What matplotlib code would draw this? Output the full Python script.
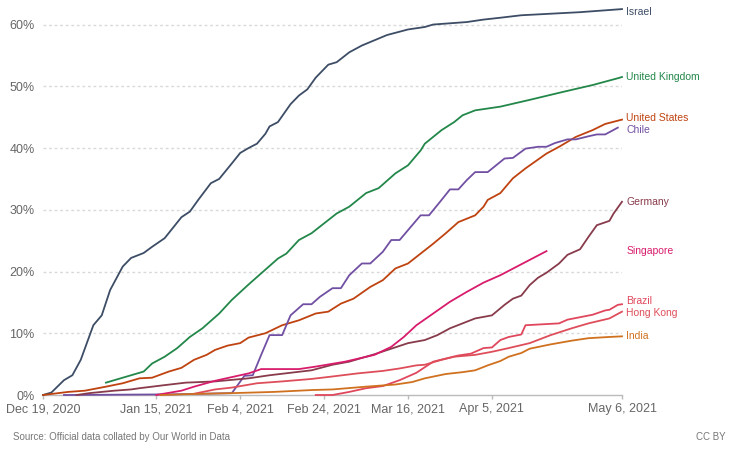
import matplotlib
matplotlib.use('Agg')
import matplotlib.pyplot as plt
import pandas as pd

# share of people with at least one vaccine dose, % (day = days after start)
start = pd.Timestamp('2020-12-19')
end = pd.Timestamp('2021-05-06')

israel_days = [0, 2, 5, 7, 9, 12, 14, 16, 19, 21, 24, 26, 29, 33, 35, 37, 40, 42, 45, 47, 49, 51, 53, 54,
               56, 59, 61, 63, 65, 68, 70, 73, 76, 82, 87, 91, 93, 101, 105, 109, 114, 128, 138]
israel_vals = [0, 0.4, 2.4, 3.2, 5.7, 11.3, 12.9, 17.0, 20.8, 22.2, 23.0, 24.0, 25.4, 28.8, 29.7, 31.6,
               34.3, 35.0, 37.5, 39.2, 40.0, 40.7, 42.3, 43.5, 44.2, 47.1, 48.5, 49.5, 51.4, 53.5, 53.9,
               55.5, 56.6, 58.3, 59.2, 59.6, 60.0, 60.4, 60.8, 61.1, 61.5, 62.0, 62.5]

uk_days = [15, 20, 24, 26, 29, 32, 35, 38, 42, 45, 49, 52, 56, 58, 61, 64, 67, 70, 73, 75, 77, 80, 84,
           87, 90, 91, 95, 98, 100, 103, 106, 109, 116, 124, 131, 137, 138]
uk_vals = [2.0, 3.0, 3.8, 5.1, 6.2, 7.6, 9.4, 10.8, 13.2, 15.4, 17.9, 19.7, 22.1, 22.9, 25.1, 26.2,
           27.8, 29.4, 30.5, 31.6, 32.7, 33.5, 35.9, 37.2, 39.6, 40.7, 42.9, 44.2, 45.3, 46.1, 46.4,
           46.7, 47.8, 49.1, 50.2, 51.3, 51.5]

us_days = [0, 6, 10, 15, 19, 23, 26, 30, 33, 36, 39, 41, 44, 47, 49, 53, 57, 61, 65, 68, 71, 74, 78,
           81, 84, 87, 90, 93, 96, 99, 103, 105, 106, 109, 112, 115, 120, 123, 127, 131, 134, 138]
us_vals = [0, 0.5, 0.7, 1.35, 1.9, 2.7, 2.8, 3.8, 4.4, 5.7, 6.5, 7.3, 8.0, 8.4, 9.3, 10.0, 11.3, 12.1,
           13.2, 13.5, 14.8, 15.6, 17.5, 18.6, 20.5, 21.3, 22.9, 24.5, 26.2, 28.0, 29.1, 30.5, 31.6,
           32.7, 35.1, 36.7, 39.1, 40.2, 41.8, 42.9, 43.9, 44.6]

chile_days = [5, 30, 45, 48, 50, 52, 54, 57, 59, 62, 64, 66, 69, 71, 73, 76, 78, 81, 83, 85, 88, 90,
              92, 95, 97, 99, 101, 103, 106, 110, 112, 115, 118, 120, 122, 125, 127, 130, 132, 134, 137]
chile_vals = [0, 0.1, 0.3, 3.1, 3.2, 6.5, 9.7, 9.7, 12.9, 14.7, 14.7, 15.9, 17.3, 17.3, 19.4, 21.3,
              21.3, 23.2, 25.1, 25.1, 27.5, 29.1, 29.1, 31.6, 33.3, 33.3, 34.8, 36.1, 36.1, 38.3, 38.4,
              39.9, 40.2, 40.2, 40.8, 41.4, 41.4, 41.9, 42.2, 42.2, 43.3]

germany_days = [8, 11, 17, 21, 23, 29, 34, 41, 49, 54, 59, 64, 69, 73, 79, 83, 87, 91, 94, 97, 100,
                103, 107, 110, 112, 114, 116, 118, 120, 123, 125, 128, 130, 132, 135, 136, 138]
germany_vals = [0, 0.3, 0.7, 0.9, 1.1, 1.6, 2.0, 2.2, 2.7, 3.2, 3.6, 4.0, 4.9, 5.4, 6.6, 7.5, 8.4,
                8.9, 9.7, 10.8, 11.6, 12.4, 12.9, 14.6, 15.6, 16.1, 17.8, 19.0, 19.8, 21.3, 22.7,
                23.6, 25.6, 27.5, 28.2, 29.4, 31.3]

singapore_days = [27, 33, 36, 41, 45, 49, 52, 61, 65, 72, 79, 83, 86, 89, 93, 97, 101, 105, 109, 120]
singapore_vals = [0, 0.7, 1.35, 2.3, 2.9, 3.5, 4.2, 4.2, 4.6, 5.4, 6.5, 7.8, 9.4, 11.3, 13.2, 15.1,
                  16.7, 18.2, 19.4, 23.3]

brazil_days = [65, 69, 73, 77, 81, 85, 89, 93, 96, 99, 102, 105, 107, 109, 111, 114, 115, 123, 125,
               128, 131, 134, 135, 137, 138]
brazil_vals = [0, 0, 0.5, 1.1, 1.45, 2.4, 3.6, 5.4, 5.9, 6.4, 6.7, 7.6, 7.7, 8.9, 9.4, 9.8, 11.3,
               11.6, 12.2, 12.6, 13.0, 13.7, 13.8, 14.6, 14.7]

hongkong_days = [36, 41, 45, 51, 57, 64, 69, 75, 81, 85, 89, 91, 95, 98, 103, 107, 111, 116, 121,
                 126, 130, 135, 138]
hongkong_vals = [0.2, 0.9, 1.2, 1.9, 2.2, 2.6, 3.0, 3.5, 3.9, 4.3, 4.8, 4.9, 5.7, 6.2, 6.5, 7.0, 7.6,
                 8.4, 9.7, 10.8, 11.6, 12.4, 13.5]

india_days = [28, 35, 45, 55, 64, 69, 77, 84, 88, 91, 96, 100, 103, 106, 109, 111, 114, 116, 121,
              126, 130, 135, 138]
india_vals = [0, 0.15, 0.3, 0.5, 0.8, 0.9, 1.35, 1.7, 2.1, 2.7, 3.4, 3.7, 4.0, 4.8, 5.5, 6.2, 6.8,
              7.5, 8.2, 8.8, 9.2, 9.4, 9.5]

tick_dates = ['2020-12-19', '2021-01-15', '2021-02-04', '2021-02-24', '2021-03-16', '2021-04-05',
              '2021-05-06']
y_ticks = [0, 10, 20, 30, 40, 50, 60]

series = [
    ('Israel', israel_days, israel_vals, '#3d4d66', -3),
    ('United Kingdom', uk_days, uk_vals, '#23874a', 0),
    ('United States', us_days, us_vals, '#bf4310', 2),
    ('Chile', chile_days, chile_vals, '#7150a3', -2),
    ('Germany', germany_days, germany_vals, '#883b4b', 0),
    ('Singapore', singapore_days, singapore_vals, '#d81c6c', 0),
    ('Brazil', brazil_days, brazil_vals, '#e0475d', 3),
    ('Hong Kong', hongkong_days, hongkong_vals, '#de4e5a', -1.5),
    ('India', india_days, india_vals, '#d0711f', 0),
]

plt.rcParams['font.family'] = ['Liberation Sans', 'DejaVu Sans']

fig = plt.figure(figsize=(7.44, 4.5), dpi=100)
ax = fig.add_axes([43 / 744, 55 / 450, 579 / 744, 389 / 450])

for name, days, vals, col, nudge in series:
    dts = start + pd.to_timedelta(days, unit='D')
    ax.plot(dts, vals, color=col, lw=1.3, solid_joinstyle='round', zorder=3, clip_on=False)
    ax.annotate(name, xy=(end, vals[-1]), xytext=(3, nudge * 0.72), textcoords='offset points',
                color=col, fontsize=7.5, va='center', ha='left', annotation_clip=False)

ax.set_xlim(start, end)
ax.set_ylim(0, 63)

ticks = pd.to_datetime(tick_dates)
ax.set_xticks(ticks)
ax.set_xticklabels([f'{d:%b} {d.day}, {d.year}' for d in ticks])
ax.set_yticks(y_ticks)
ax.set_yticklabels([f'{v}%' for v in y_ticks])

ax.tick_params(axis='x', length=3, width=1, color='#bbbbbb', pad=3, labelsize=9, labelcolor='#666666')
ax.tick_params(axis='y', length=0, pad=6, labelsize=9, labelcolor='#666666')

for v in y_ticks[1:]:
    ax.axhline(v, color='#d9d9d9', lw=1, ls=(0, (2, 2)), zorder=1)

for s in ['top', 'right', 'left']:
    ax.spines[s].set_visible(False)
ax.spines['bottom'].set_color('#bbbbbb')
ax.spines['bottom'].set_linewidth(1)

fig.text(13 / 744, 1 - 437 / 450, 'Source: Official data collated by Our World in Data',
         fontsize=7, color='#777777', va='center', ha='left')
fig.text(726 / 744, 1 - 437 / 450, 'CC BY', fontsize=7, color='#777777', va='center', ha='right')

fig.savefig('out.png', dpi=100)
